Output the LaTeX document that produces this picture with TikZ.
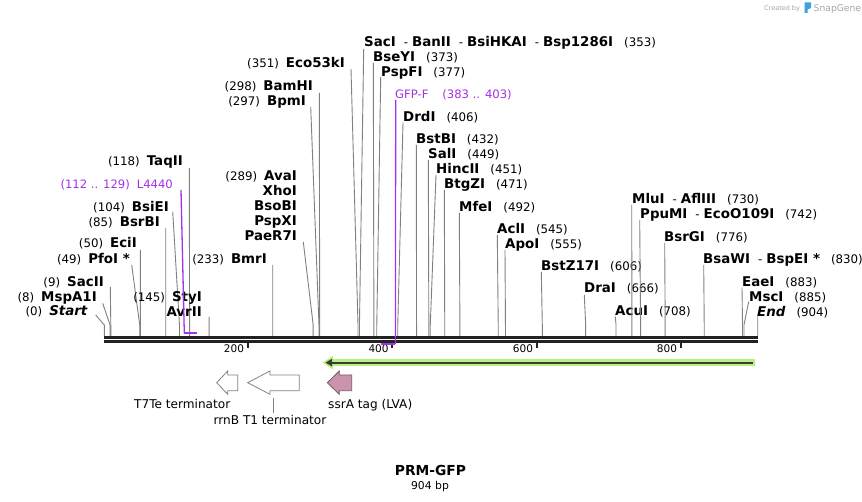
\documentclass[tikz,border=0pt]{standalone}
\usepackage{fontspec}
\setmainfont{DejaVu Sans}
\usetikzlibrary{arrows.meta}
\definecolor{connc}{RGB}{128,128,128}
\definecolor{seqc}{RGB}{34,34,34}
\definecolor{primc}{RGB}{165,50,230}
\definecolor{orfhalo}{RGB}{185,240,130}
\definecolor{orfc}{RGB}{58,58,58}
\definecolor{tagc}{RGB}{201,148,172}
\definecolor{tagd}{RGB}{120,90,100}
\definecolor{featd}{RGB}{130,130,130}
\definecolor{sgc}{RGB}{165,165,165}
\definecolor{sgblue}{RGB}{60,160,225}
\newcommand\pn[1]{{\fontsize{11.8}{13}\selectfont\mdseries #1}}
\newcommand\hy{\hspace{8pt}\pn{-}\hspace{4pt}}
\newcommand\mysite[8]{%
  \node[lab, anchor=#2] (#1) at (#3,#4) {#5};
  \coordinate (#1-t) at (#6,#7);
  \coordinate (#1-b) at ({104.3+0.7228*#8},325);
  \coordinate (#1-s) at ({104.3+0.7228*#8},336);
  \draw[connline] (#1-t) -- (#1-b) -- (#1-s);
}
\tikzset{
  lab/.style={inner sep=0pt, font=\fontsize{13.4}{15}\selectfont\bfseries},
  plab/.style={inner sep=0pt, font=\fontsize{11.6}{14}\selectfont, text=primc},
  connline/.style={draw=connc, line width=0.9pt},
  primline/.style={draw=primc, line width=1.3pt},
  primbr/.style={draw=primc, line width=2pt},
  seqline/.style={draw=seqc},
  tickmark/.style={draw=seqc, line width=2pt},
  ticklab/.style={inner sep=0pt, font=\fontsize{10.5}{12}\selectfont},
  featlab/.style={inner sep=0pt, font=\fontsize{12.1}{14}\selectfont},
  termarrow/.style={draw=featd, fill=white, line width=0.8pt},
  tagarrow/.style={draw=tagd, fill=tagc, line width=0.8pt},
}
\begin{document}
\begin{tikzpicture}[x=1pt,y=-1pt]
\useasboundingbox[fill=white] (0,0) rectangle (862,502);

% --- left labels ---
\mysite{start}{base east}{88}{316}{\pn{(0)}\hspace{7pt}\textit{Start}}{95.7}{315}{0}
\mysite{mspa}{base east}{97}{301.5}{\pn{(8)}\hspace{7pt}MspA1I}{102.7}{303.3}{8}
\mysite{sacii}{base east}{104}{286.5}{\pn{(9)}\hspace{7pt}SacII}{110.3}{287}{9}
\mysite{pfoi}{base east}{130}{263.5}{\pn{(49)}\hspace{7pt}PfoI *}{131.7}{265}{49}
\mysite{ecii}{base east}{137}{247.5}{\pn{(50)}\hspace{7pt}EciI}{140.3}{250}{50}
\mysite{bsrbi}{base east}{160}{226.5}{\pn{(85)}\hspace{7pt}BsrBI}{165.7}{228}{85}
\mysite{bsiei}{base east}{169}{211.5}{\pn{(104)}\hspace{7pt}BsiEI}{172.7}{211.7}{104}
\mysite{taqii}{base east}{183}{166}{\pn{(118)}\hspace{7pt}TaqII}{189.3}{168}{118}
\mysite{styi}{base east}{202}{301.5}{\pn{(145)}\hspace{7pt}StyI}{209.1}{317}{145}
\node[lab, anchor=base east] (avrii) at (202,316.5) {AvrII};
\mysite{bmri}{base east}{267}{263.5}{\pn{(233)}\hspace{7pt}BmrI}{272.7}{265}{233}
\mysite{avai}{base east}{297}{180.5}{\pn{(289)}\hspace{7pt}AvaI}{303.3}{242}{289}
\node[lab, anchor=base east] (xhoi) at (297,195.5) {XhoI};
\node[lab, anchor=base east] (bsobi) at (297,210.5) {BsoBI};
\node[lab, anchor=base east] (pspxi) at (297,225.5) {PspXI};
\node[lab, anchor=base east] (paer) at (297,240.5) {PaeR7I};
\mysite{bpmi}{base east}{306}{105.5}{\pn{(297)}\hspace{7pt}BpmI}{310.7}{107}{297}
\mysite{bamhi}{base east}{313}{90.5}{\pn{(298)}\hspace{7pt}BamHI}{319.3}{93}{298}
\mysite{eco}{base east}{345}{67.5}{\pn{(351)}\hspace{7pt}Eco53kI}{351}{69}{351}

% --- right labels ---
\mysite{saci}{base west}{364}{46.5}{SacI\hy BanII\hy BsiHKAI\hy Bsp1286I\hspace{11pt}\pn{(353)}}{363.7}{49}{353}
\mysite{bseyi}{base west}{373}{61.5}{BseYI\hspace{11pt}\pn{(373)}}{373.3}{63}{373}
\mysite{pspfi}{base west}{381}{76.5}{PspFI\hspace{11pt}\pn{(377)}}{380.7}{77}{377}
\mysite{drdi}{base west}{403}{121.5}{DrdI\hspace{11pt}\pn{(406)}}{403}{122.7}{406}
\mysite{bstbi}{base west}{416}{143.5}{BstBI\hspace{11pt}\pn{(432)}}{416.3}{145}{432}
\mysite{sali}{base west}{428}{158.5}{SalI\hspace{11pt}\pn{(449)}}{428.3}{160}{449}
\mysite{hincii}{base west}{436}{173.5}{HincII\hspace{11pt}\pn{(451)}}{436}{175}{451}
\mysite{btgzi}{base west}{444}{188.5}{BtgZI\hspace{11pt}\pn{(471)}}{444.3}{190}{471}
\mysite{mfei}{base west}{459}{211.5}{MfeI\hspace{11pt}\pn{(492)}}{459.3}{213}{492}
\mysite{acli}{base west}{497}{233.5}{AclI\hspace{11pt}\pn{(545)}}{497.3}{235}{545}
\mysite{apoi}{base west}{505}{248.5}{ApoI\hspace{11pt}\pn{(555)}}{505}{250}{555}
\mysite{bstz}{base west}{541}{270.5}{BstZ17I\hspace{11pt}\pn{(606)}}{541.3}{272}{606}
\mysite{drai}{base west}{584}{293}{DraI\hspace{11pt}\pn{(666)}}{584.3}{295}{666}
\mysite{acui}{base west}{615}{316}{AcuI\hspace{11pt}\pn{(708)}}{615.3}{316.7}{708}
\mysite{mlui}{base west}{632}{203.5}{MluI\hy AflIII\hspace{11pt}\pn{(730)}}{631.7}{205}{730}
\mysite{ppumi}{base west}{640}{218.5}{PpuMI\hy EcoO109I\hspace{11pt}\pn{(742)}}{639.7}{220}{742}
\mysite{bsrgi}{base west}{664}{241.5}{BsrGI\hspace{11pt}\pn{(776)}}{664.7}{243}{776}
\mysite{bsawi}{base west}{703}{263.5}{BsaWI\hy BspEI *\hspace{11pt}\pn{(830)}}{703.7}{265}{830}
\mysite{eaei}{base west}{742}{286.5}{EaeI\hspace{11pt}\pn{(883)}}{742}{287.7}{883}
\mysite{msci}{base west}{749}{301.5}{MscI\hspace{11pt}\pn{(885)}}{748.7}{301.7}{885}
\mysite{end}{base west}{757}{316.5}{\textit{End}\hspace{11pt}\pn{(904)}}{757.7}{316}{904}

% --- sequence ---
\coordinate (sqAL) at (104,337.3);
\coordinate (sqAR) at (757.9,337.3);
\coordinate (sqBL) at (104,341.4);
\coordinate (sqBR) at (757.9,341.4);
\draw[seqline, line width=3pt] (sqAL) -- (sqAR);
\draw[seqline, line width=2.6pt] (sqBL) -- (sqBR);

% --- ticks ---
\foreach \tx/\tl [count=\i] in {247.7/200, 392.3/400, 536.7/600, 680.7/800} {
  \coordinate (tk\i a) at (\tx,342);
  \coordinate (tk\i b) at (\tx,348.5);
  \draw[tickmark] (tk\i a) -- (tk\i b);
  \node[ticklab, anchor=base east] (tl\i) at (\tx-3.5,352.7) {\tl};
}

% --- primers ---
\node[plab, anchor=base east] (l4440) at (173,188.5) {(112 .. 129)\hspace{7pt}L4440};
\coordinate (l4t) at (181,190);
\coordinate (l4b) at (184.3,333.3);
\coordinate (l4e) at (197,333.3);
\draw[primline] (l4t) -- (l4b);
\draw[primbr] (l4b) -- (l4e);

\node[plab, anchor=base west] (gfpf) at (395,98.5) {GFP-F\hspace{14pt}(383 .. 403)};
\coordinate (gft) at (395.7,100);
\coordinate (gfb) at (395.4,344);
\coordinate (gfe) at (380.7,344);
\draw[primline] (gft) -- (gfb);
\draw[primbr] (gfb) -- (gfe);

% --- ORF ---
\coordinate (orfR) at (752.7,362.6);
\coordinate (orfL) at (331,362.6);
\coordinate (orfT) at (325.5,362.6);
\fill[orfhalo] (755,359.2) -- (333,359.2) -- (333,355.8) -- (322.5,362.6) -- (333,369.4) -- (333,366) -- (755,366) -- cycle;
\draw[orfc, line width=2pt] (orfR) -- (orfL);
\fill[orfc] (orfT) -- (332,358.8) -- (332,366.4) -- cycle;

% --- features ---
\draw[termarrow] (216.7,382.7) -- (227.7,371) -- (227.7,375) -- (237.7,375) -- (237.7,390.7) -- (227.7,390.7) -- (227.7,394.3) -- cycle;
\draw[termarrow] (247.7,382.7) -- (270,371) -- (270,375) -- (299.3,375) -- (299.3,390.7) -- (270,390.7) -- (270,394.3) -- cycle;
\draw[tagarrow] (327.3,382.7) -- (339.3,371) -- (339.3,375) -- (351.7,375) -- (351.7,390.7) -- (339.3,390.7) -- (339.3,394.3) -- cycle;
\node[featlab, anchor=base west] (t7te) at (134,408.7) {T7Te terminator};
\node[featlab, anchor=base west] (rrnb) at (213.5,424.3) {rrnB T1 terminator};
\coordinate (rrnbt) at (273.3,398.3);
\coordinate (rrnbb) at (273.3,413.3);
\draw[connline] (rrnbt) -- (rrnbb);
\node[featlab, anchor=base west] (ssra) at (328,408.7) {ssrA tag (LVA)};

% --- title ---
\node[inner sep=0pt, anchor=base, font=\fontsize{13.8}{15}\selectfont\bfseries] (title) at (430.5,475.5) {PRM-GFP};
\node[inner sep=0pt, anchor=base, font=\fontsize{10.8}{12}\selectfont] (bp) at (430,489.3) {904 bp};

% --- watermark ---
\node[inner sep=0pt, anchor=base west, text=sgc, font=\fontsize{6.5}{8}\selectfont] (cb) at (764,11) {Created by};
\fill[sgblue] (804.5,2.5) -- (811,2.5) -- (811,8) -- (807.5,9.5) -- (807.5,13) -- (804.5,13) -- cycle;
\node[inner sep=0pt, anchor=base west, text=sgc, font=\fontsize{9.2}{10}\selectfont] (sg) at (813.5,11.5) {SnapGene};
\end{tikzpicture}
\end{document}
